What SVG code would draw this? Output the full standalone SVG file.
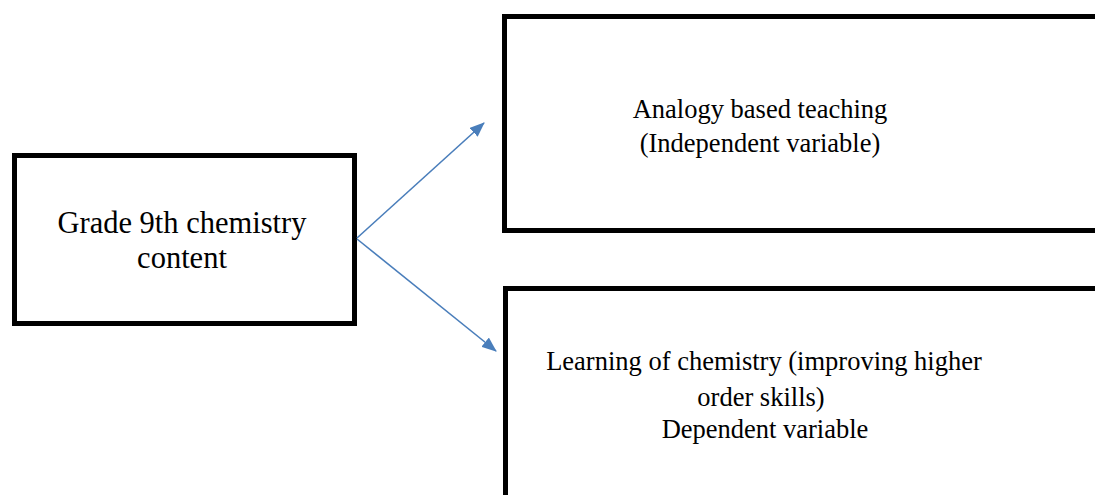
<svg xmlns="http://www.w3.org/2000/svg" width="1095" height="495" viewBox="0 0 1095 495">
<style>
.box{fill:#fff;stroke:#000;stroke-width:5}
.t{font-family:"Liberation Serif",serif;font-size:26.5px;fill:#000;text-anchor:middle}
.big{font-size:30.5px}
.c{stroke:#4a7ebb;stroke-width:1.6;fill:none}
</style>
<defs>
<marker id="ah" markerWidth="15" markerHeight="12" refX="14" refY="6" orient="auto" markerUnits="userSpaceOnUse" viewBox="0 0 15 12">
<path d="M0,0 L15,6 L0,12 z" fill="#4a7ebb"/>
</marker>
</defs>
<rect width="1095" height="495" fill="#fff"/>
<g id="node-grade">
<rect class="box" x="14.5" y="155.5" width="340" height="168"/>
<text class="t big" x="182" y="233">Grade 9th chemistry</text>
<text class="t big" x="182" y="268">content</text>
</g>
<g id="node-analogy">
<rect class="box" x="504.5" y="16.5" width="600" height="214"/>
<text class="t" x="760" y="118">Analogy based teaching</text>
<text class="t" x="760" y="152">(Independent variable)</text>
</g>
<g id="node-learning">
<rect class="box" x="505.5" y="288.5" width="600" height="220"/>
<text class="t" x="764" y="370">Learning of chemistry (improving higher</text>
<text class="t" x="761" y="406">order skills)</text>
<text class="t" x="765" y="438">Dependent variable</text>
</g>
<g id="connectors">
<line class="c" x1="357" y1="238" x2="484" y2="123" marker-end="url(#ah)"/>
<line class="c" x1="357" y1="239" x2="496" y2="351" marker-end="url(#ah)"/>
</g>
</svg>
